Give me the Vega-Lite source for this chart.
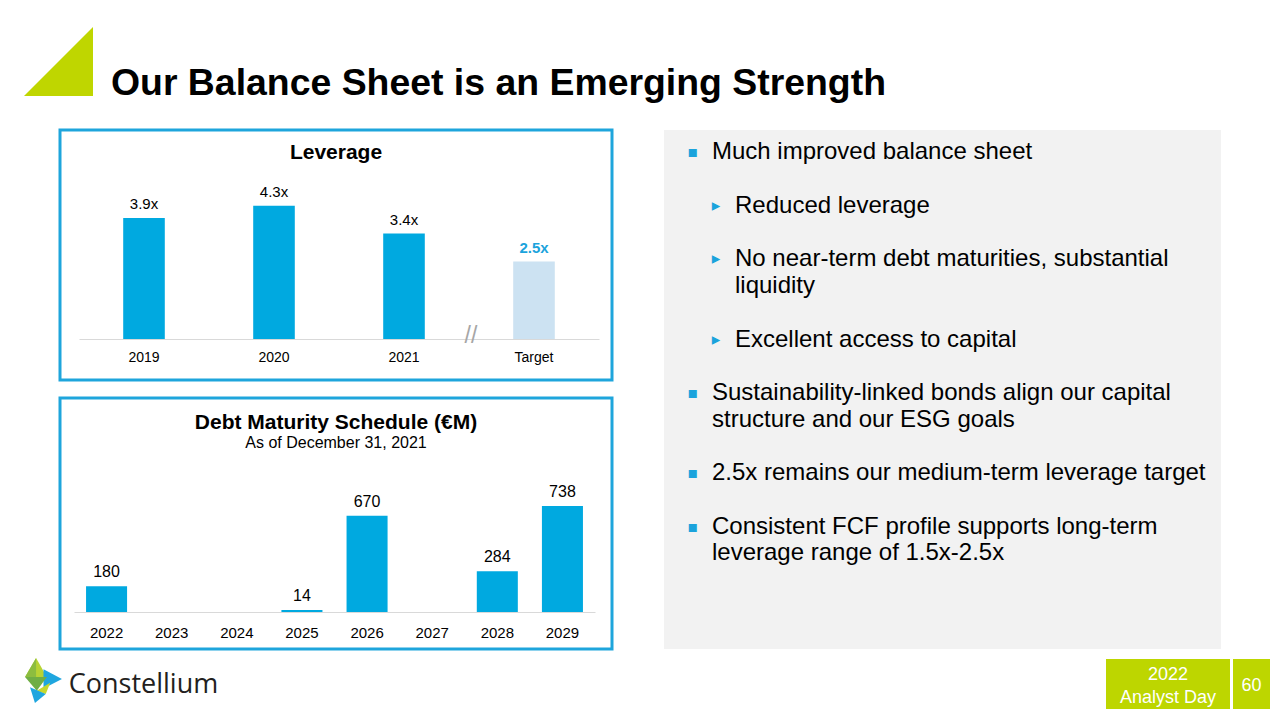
{
  "$schema": "https://vega.github.io/schema/vega-lite/v6.json",
  "background": "#ffffff",
  "padding": 0,
  "spacing": 0,
  "config": {
    "font": "Liberation Sans",
    "view": {"stroke": null},
    "text": {"font": "Liberation Sans"},
    "axis": {"labelFont": "Liberation Sans"},
    "title": {"font": "Liberation Sans", "subtitleFont": "Liberation Sans"}
  },
  "vconcat": [
    {
      "spacing": 0,
      "hconcat": [
        {"width": 24, "height": 128, "data": {"values": []}, "mark": "point"},
        {
          "spacing": 0,
          "vconcat": [
            {"width": 69, "height": 27, "data": {"values": []}, "mark": "point"},
            {
              "width": 69, "height": 69,
              "data": {"values": [{"element": "accent"}]},
              "mark": {"type": "point", "shape": "M-1,1L1,-1L1,1Z", "size": 4761, "filled": true, "color": "#bfd600", "opacity": 1, "strokeWidth": 0}
            }
          ]
        },
        {"width": 18, "height": 128, "data": {"values": []}, "mark": "point"},
        {
          "width": 773, "height": 128,
          "data": {"values": [{"title": "Our Balance Sheet is an Emerging Strength"}]},
          "mark": {"type": "text", "fontSize": 37.4, "fontWeight": "bold", "color": "#000000", "align": "center", "baseline": "alphabetic", "dy": 31},
          "encoding": {"text": {"field": "title"}}
        }
      ]
    },
    {
      "spacing": 0,
      "hconcat": [
        {"width": 58, "height": 520, "data": {"values": []}, "mark": "point"},
        {
          "spacing": 0,
          "vconcat": [
            {
              "width": 552, "height": 250,
              "view": {"stroke": "#1ea5dc", "strokeWidth": 3, "fill": "#ffffff"},
              "title": {"text": "Leverage", "fontSize": 21, "fontWeight": "bold", "color": "#000000", "anchor": "middle", "offset": -33},
              "data": {"values": [
                {"period": "2019", "leverage": 3.9, "label": "3.9x"},
                {"period": "2020", "leverage": 4.3, "label": "4.3x"},
                {"period": "2021", "leverage": 3.4, "label": "3.4x"},
                {"period": "Target", "leverage": 2.5, "label": "2.5x"}
              ]},
              "encoding": {
                "x": {
                  "field": "period", "type": "nominal", "sort": null,
                  "scale": {"domain": ["2019", "2020", "2021", "Target"], "range": [19, 539], "paddingInner": 0.68, "paddingOuter": 0.34},
                  "axis": {"title": null, "orient": "bottom", "offset": -41, "labelAngle": 0, "ticks": false, "tickSize": 0, "domainColor": "#d9d9d9", "domainWidth": 1, "labelFontSize": 14, "labelColor": "#000000", "labelPadding": 11, "grid": false}
                },
                "y": {"field": "leverage", "type": "quantitative", "scale": {"domain": [-1.3226, 6.742], "nice": false, "zero": false}, "axis": null}
              },
              "layer": [
                {
                  "mark": {"type": "bar"},
                  "encoding": {"color": {"condition": {"test": "datum.period === 'Target'", "value": "#cce2f2"}, "value": "#00a9e0"}}
                },
                {
                  "transform": [{"filter": "datum.period !== 'Target'"}],
                  "mark": {"type": "text", "baseline": "bottom", "dy": -6, "fontSize": 15, "color": "#000000"},
                  "encoding": {"text": {"field": "label"}}
                },
                {
                  "transform": [{"filter": "datum.period === 'Target'"}],
                  "mark": {"type": "text", "baseline": "bottom", "dy": -6, "fontSize": 15, "fontWeight": "bold", "color": "#1ba3dc"},
                  "encoding": {"text": {"field": "label"}}
                },
                {
                  "transform": [{"filter": "datum.period === 'Target'"}],
                  "mark": {"type": "text", "text": "//", "fontSize": 23, "color": "#a6a6a6", "baseline": "middle", "align": "center", "dx": -63, "dy": -3},
                  "encoding": {
                    "y": {"datum": 0}
                  }
                }
              ]
            },
            {"width": 552, "height": 14, "data": {"values": []}, "mark": "point"},
            {
              "width": 552, "height": 251,
              "view": {"stroke": "#1ea5dc", "strokeWidth": 3, "fill": "#ffffff"},
              "title": {"text": "Debt Maturity Schedule (€M)", "subtitle": "As of December 31, 2021", "fontSize": 21, "fontWeight": "bold", "color": "#000000", "subtitleFontSize": 16, "subtitleColor": "#000000", "subtitlePadding": 2, "anchor": "middle", "offset": -53},
              "data": {"values": [
                {"year": "2022", "amount": 180},
                {"year": "2025", "amount": 14},
                {"year": "2026", "amount": 670},
                {"year": "2028", "amount": 284},
                {"year": "2029", "amount": 738}
              ]},
              "encoding": {
                "x": {
                  "field": "year", "type": "nominal", "sort": null,
                  "scale": {"domain": ["2022", "2023", "2024", "2025", "2026", "2027", "2028", "2029"], "range": [14, 535], "paddingInner": 0.37, "paddingOuter": 0.185},
                  "axis": {"title": null, "orient": "bottom", "offset": -37, "labelAngle": 0, "ticks": false, "tickSize": 0, "domainColor": "#d9d9d9", "domainWidth": 1, "labelFontSize": 15, "labelColor": "#000000", "labelPadding": 13, "grid": false}
                },
                "y": {"field": "amount", "type": "quantitative", "scale": {"domain": [-257.8, 1491.3], "nice": false, "zero": false}, "axis": null}
              },
              "layer": [
                {"mark": {"type": "bar", "color": "#00a9e0"}},
                {
                  "mark": {"type": "text", "baseline": "bottom", "dy": -6, "fontSize": 16, "color": "#000000"},
                  "encoding": {"text": {"field": "amount", "type": "quantitative", "format": "d"}}
                }
              ]
            }
          ]
        },
        {"width": 50, "height": 520, "data": {"values": []}, "mark": "point"},
        {
          "width": 557, "height": 519,
          "view": {"fill": "#f2f2f2", "stroke": null},
          "data": {"values": [
            {"line": 0, "level": 1, "marker": "▪", "text": "Much improved balance sheet"},
            {"line": 2, "level": 2, "marker": "▸", "text": "Reduced leverage"},
            {"line": 4, "level": 2, "marker": "▸", "text": "No near-term debt maturities, substantial"},
            {"line": 5, "level": 2, "marker": "", "text": "liquidity"},
            {"line": 7, "level": 2, "marker": "▸", "text": "Excellent access to capital"},
            {"line": 9, "level": 1, "marker": "▪", "text": "Sustainability-linked bonds align our capital"},
            {"line": 10, "level": 1, "marker": "", "text": "structure and our ESG goals"},
            {"line": 12, "level": 1, "marker": "▪", "text": "2.5x remains our medium-term leverage target"},
            {"line": 14, "level": 1, "marker": "▪", "text": "Consistent FCF profile supports long-term"},
            {"line": 15, "level": 1, "marker": "", "text": "leverage range of 1.5x-2.5x"}
          ]},
          "encoding": {
            "x": {"field": "level", "type": "quantitative", "scale": {"domain": [-0.26087, 23.9565], "nice": false, "zero": false}, "axis": null},
            "y": {"field": "line", "type": "quantitative", "scale": {"domain": [-0.84, 18.58], "nice": false, "zero": false, "reverse": true}, "axis": null}
          },
          "layer": [
            {
              "transform": [{"filter": "datum.marker !== ''"}],
              "mark": {"type": "text", "font": "DejaVu Sans", "align": "center", "baseline": "middle", "color": "#1ba3dc"},
              "encoding": {
                "text": {"field": "marker"},
                "size": {"condition": {"test": "datum.level === 1", "value": 16}, "value": 17}
              }
            },
            {
              "mark": {"type": "text", "align": "left", "baseline": "middle", "dx": 19, "fontSize": 24, "color": "#000000"},
              "encoding": {"text": {"field": "text"}}
            }
          ]
        }
      ]
    },
    {
      "spacing": 0,
      "hconcat": [
        {"width": 25, "height": 68, "data": {"values": []}, "mark": "point"},
        {
          "spacing": 0,
          "vconcat": [
            {"width": 37, "height": 7, "data": {"values": []}, "mark": "point"},
            {
              "width": 37, "height": 45,
              "data": {"values": [
                {"piece": "a"}, {"piece": "b"}, {"piece": "c"}, {"piece": "d"}, {"piece": "e"}, {"piece": "f"}
              ]},
              "mark": {"type": "point", "filled": true, "size": 2025, "opacity": 1, "strokeWidth": 0},
              "encoding": {
                "shape": {"field": "piece", "type": "nominal", "legend": null, "scale": {"domain": ["a", "b", "c", "d", "e", "f"], "range": [
                  "M-0.33,-1L-0.82,-0.16L0.15,-0.16Z",
                  "M-0.33,-1L-0.33,-0.16L-0.82,-0.16Z",
                  "M0,-0.5L0.82,-0.07L0,0.35Z",
                  "M-0.82,-0.16L0.15,-0.16L-0.3,0.45Z",
                  "M-0.3,0.45L0.3,0.1L0.1,0.6Z",
                  "M-0.6,0.3L0.1,0.6L-0.38,1Z"
                ]}},
                "color": {"field": "piece", "type": "nominal", "legend": null, "scale": {"domain": ["a", "b", "c", "d", "e", "f"], "range": ["#b7d334", "#8cbd3f", "#1fa6df", "#6fae44", "#c5d82e", "#1fa6df"]}}
              }
            }
          ]
        },
        {"width": 6, "height": 68, "data": {"values": []}, "mark": "point"},
        {
          "width": 147, "height": 68,
          "data": {"values": [{"brand": "Constellium"}]},
          "mark": {"type": "text", "font": "Open Sans", "fontSize": 27, "color": "#231f20", "align": "center", "baseline": "middle"},
          "encoding": {"text": {"field": "brand"}}
        },
        {"width": 887, "height": 68, "data": {"values": []}, "mark": "point"},
        {
          "spacing": 0,
          "vconcat": [
            {"width": 124, "height": 8, "data": {"values": []}, "mark": "point"},
            {
              "width": 124, "height": 50,
              "view": {"fill": "#bdd600", "stroke": null},
              "data": {"values": [{"event": "2022\nAnalyst Day"}]},
              "mark": {"type": "text", "lineBreak": "\n", "lineHeight": 23, "fontSize": 18, "color": "#ffffff", "align": "center", "baseline": "middle", "dy": -9.5},
              "encoding": {"text": {"field": "event"}}
            }
          ]
        },
        {"width": 3, "height": 68, "data": {"values": []}, "mark": "point"},
        {
          "spacing": 0,
          "vconcat": [
            {"width": 37, "height": 8, "data": {"values": []}, "mark": "point"},
            {
              "width": 37, "height": 50,
              "view": {"fill": "#bdd600", "stroke": null},
              "data": {"values": [{"page": "60"}]},
              "mark": {"type": "text", "fontSize": 18, "color": "#ffffff", "align": "center", "baseline": "middle", "dy": 2},
              "encoding": {"text": {"field": "page"}}
            }
          ]
        }
      ]
    }
  ]
}
